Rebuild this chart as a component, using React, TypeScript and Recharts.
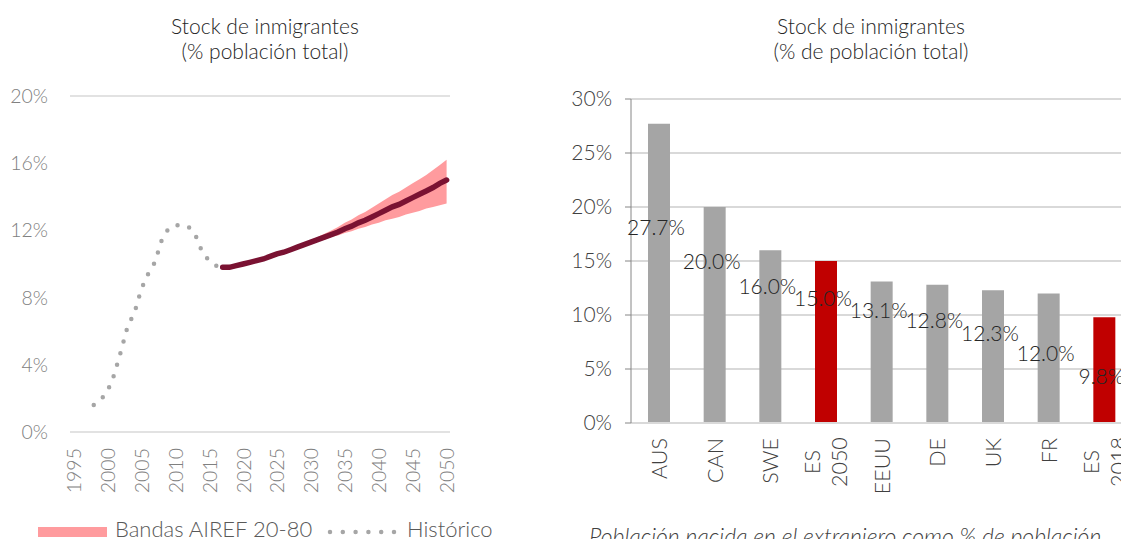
import React from 'react';
import {
  ComposedChart,
  BarChart,
  Bar,
  Area,
  Line,
  Cell,
  XAxis,
  YAxis,
  CartesianGrid,
  LabelList,
} from 'recharts';

// ---- Left chart: stock de inmigrantes, histórico + proyección ----
const histYears = [1998, 1999, 2000, 2001, 2002, 2003, 2004, 2005, 2006, 2007, 2008, 2009, 2010, 2011, 2012, 2013, 2014, 2015, 2016, 2017];
const histValues = [1.6, 1.9, 2.4, 3.4, 4.8, 6.3, 7.1, 8.5, 9.4, 10.1, 11.4, 12.1, 12.3, 12.3, 12.2, 11.7, 10.7, 10.2, 9.9, 9.8];

const projYears = [
  2017, 2018, 2019, 2020, 2021, 2022, 2023, 2024, 2025, 2026, 2027, 2028, 2029, 2030, 2031, 2032, 2033,
  2034, 2035, 2036, 2037, 2038, 2039, 2040, 2041, 2042, 2043, 2044, 2045, 2046, 2047, 2048, 2049, 2050,
];
const projMid = [
  9.8, 9.8, 9.9, 10.0, 10.1, 10.2, 10.3, 10.45, 10.6, 10.7, 10.85, 11.0, 11.15, 11.3, 11.45, 11.6, 11.75,
  11.9, 12.1, 12.25, 12.45, 12.6, 12.8, 13.0, 13.2, 13.4, 13.55, 13.75, 13.95, 14.15, 14.35, 14.55, 14.8, 15.0,
];
const projP20 = [
  9.8, 9.8, 9.9, 10.0, 10.1, 10.2, 10.3, 10.45, 10.6, 10.7, 10.85, 10.95, 11.1, 11.2, 11.35, 11.45, 11.6,
  11.7, 11.85, 11.95, 12.1, 12.2, 12.35, 12.45, 12.6, 12.7, 12.8, 12.95, 13.05, 13.15, 13.3, 13.4, 13.5, 13.6,
];
const projP80 = [
  9.8, 9.8, 9.9, 10.0, 10.1, 10.2, 10.3, 10.45, 10.6, 10.7, 10.85, 11.05, 11.2, 11.4, 11.6, 11.8, 12.0,
  12.2, 12.45, 12.65, 12.9, 13.1, 13.35, 13.6, 13.85, 14.1, 14.3, 14.55, 14.8, 15.05, 15.3, 15.6, 15.9, 16.2,
];
const yearTicks = [1995, 2000, 2005, 2010, 2015, 2020, 2025, 2030, 2035, 2040, 2045, 2050];
const leftPctTicks = [0, 4, 8, 12, 16, 20];

// ---- Right chart: comparación internacional ----
const countries = ['AUS', 'CAN', 'SWE', 'ES\n2050', 'EEUU', 'DE', 'UK', 'FR', 'ES\n2018'];
const shares = [27.7, 20.0, 16.0, 15.0, 13.1, 12.8, 12.3, 12.0, 9.8];
const rightPctTicks = [0, 5, 10, 15, 20, 25, 30];

type Row = { year: number; hist?: number; mid?: number; lo?: number; hi?: number };
const byYear: Record<number, Row> = {};
histYears.forEach((y, i) => {
  byYear[y] = { ...(byYear[y] || { year: y }), hist: histValues[i] };
});
projYears.forEach((y, i) => {
  byYear[y] = { ...(byYear[y] || { year: y }), mid: projMid[i], lo: projP20[i], hi: projP80[i] };
});
const leftData = Object.values(byYear).sort((a, b) => a.year - b.year);

const barData = countries.map((c, i) => ({ name: c, value: shares[i] }));

const FONT = "Lato, 'Open Sans', sans-serif";
const GRID = '#D9D9D9';

// how far below each bar top the (Excel-placed) value label sits
const LABEL_DROP = [103, 53, 35, 36, 28, 35, 42, 59, 58];

const YearTick = ({ x, y, payload }: any) => (
  <text
    x={x}
    y={y + 16}
    transform={`rotate(-90 ${x} ${y + 16})`}
    textAnchor="end"
    dominantBaseline="central"
    fontFamily={FONT}
    fontWeight={300}
    fontSize={19.5}
    fill="#808080"
  >
    {payload.value}
  </text>
);

const CountryTick = ({ x, y, payload }: any) => {
  const lines = String(payload.value).split('\n');
  const fs = 21.5;
  if (lines.length === 1) {
    return (
      <text
        x={x}
        y={y + 15}
        transform={`rotate(-90 ${x} ${y + 15})`}
        textAnchor="end"
        dominantBaseline="central"
        fontFamily={FONT}
        fontWeight={300}
        fontSize={fs}
        fill="#404040"
      >
        {lines[0]}
      </text>
    );
  }
  const longest = Math.max(...lines.map((l) => l.length));
  const cy = y + 15 + (longest * 0.56 * fs) / 2;
  return (
    <g>
      {lines.map((l, i) => {
        const lx = x + (i - (lines.length - 1) / 2) * 27;
        return (
          <text
            key={i}
            x={lx}
            y={cy}
            transform={`rotate(-90 ${lx} ${cy})`}
            textAnchor="middle"
            dominantBaseline="central"
            fontFamily={FONT}
            fontWeight={300}
            fontSize={fs}
            fill="#404040"
          >
            {l}
          </text>
        );
      })}
    </g>
  );
};

const ValueLabel = ({ x, y, width, value, index }: any) => (
  <text
    x={x + width / 2 - 3}
    y={y + LABEL_DROP[index]}
    textAnchor="middle"
    dominantBaseline="central"
    fontFamily={FONT}
    fontWeight={300}
    fontSize={21}
    fill="#262626"
  >
    {`${Number(value).toFixed(1)}%`}
  </text>
);

function LeftChart() {
  return (
    <ComposedChart
      width={560}
      height={539}
      data={leftData}
      margin={{ top: 96, right: 0, bottom: 47, left: 0 }}
    >
      <CartesianGrid horizontal vertical={false} stroke={GRID} strokeWidth={1.5} />
      <XAxis
        dataKey="year"
        type="number"
        domain={[1994.5, 2050.5]}
        ticks={yearTicks}
        interval={0}
        height={60}
        axisLine={false}
        tickLine={false}
        tickSize={0}
        tickMargin={0}
        tick={<YearTick />}
      />
      <YAxis
        yAxisId="l"
        domain={[0, 20]}
        ticks={leftPctTicks}
        width={70}
        axisLine={false}
        tickLine={false}
        tickSize={0}
        tickMargin={22}
        tickFormatter={(v) => `${v}%`}
        tick={{ fontFamily: FONT, fontWeight: 300, fontSize: 19.5, fill: '#808080' }}
      />
      <YAxis
        yAxisId="r"
        orientation="right"
        domain={[0, 20]}
        ticks={leftPctTicks}
        width={110}
        axisLine={false}
        tickLine={false}
        tickSize={0}
        tickMargin={20}
        tickFormatter={(v) => `${v}%`}
        tick={{ fontFamily: FONT, fontWeight: 300, fontSize: 19.5, fill: '#808080' }}
      />
      <Area
        yAxisId="l"
        type="linear"
        dataKey={(d: Row) => (d.lo == null ? null : [d.lo, d.hi])}
        fill="#FF9B9E"
        fillOpacity={1}
        stroke="none"
        isAnimationActive={false}
      />
      <Line
        yAxisId="l"
        type="linear"
        dataKey="hist"
        stroke="#A6A6A6"
        strokeWidth={4.5}
        strokeDasharray="0 12"
        strokeLinecap="round"
        dot={false}
        activeDot={false}
        isAnimationActive={false}
      />
      <Line
        yAxisId="l"
        type="linear"
        dataKey="mid"
        stroke="#7A1232"
        strokeWidth={5.5}
        strokeLinecap="round"
        dot={false}
        activeDot={false}
        isAnimationActive={false}
      />
    </ComposedChart>
  );
}

function RightChart() {
  return (
    <BarChart
      width={572}
      height={539}
      data={barData}
      margin={{ top: 99, right: 0, bottom: 46, left: 0 }}
    >
      <CartesianGrid horizontal vertical={false} stroke={GRID} strokeWidth={2} />
      <XAxis
        dataKey="name"
        height={70}
        interval={0}
        axisLine={{ stroke: GRID, strokeWidth: 2 }}
        tickLine={false}
        tickSize={0}
        tickMargin={0}
        tick={<CountryTick />}
      />
      <YAxis
        domain={[0, 30]}
        ticks={rightPctTicks}
        width={71}
        axisLine={{ stroke: '#868686' }}
        tickLine={{ stroke: '#868686' }}
        tickSize={6}
        tickMargin={13}
        tickFormatter={(v) => `${v}%`}
        tick={{ fontFamily: FONT, fontWeight: 300, fontSize: 21, fill: '#404040' }}
      />
      <Bar dataKey="value" barSize={22} isAnimationActive={false}>
        {barData.map((d) => (
          <Cell key={d.name} fill={d.name.startsWith('ES') ? '#C00000' : '#A5A5A5'} />
        ))}
        <LabelList dataKey="value" content={<ValueLabel />} />
      </Bar>
    </BarChart>
  );
}

function Overlay() {
  const title = { fontFamily: FONT, fontWeight: 300, fontSize: 21, fill: '#262626', textAnchor: 'middle' as const };
  const legend = { fontFamily: FONT, fontWeight: 300, fontSize: 22, fill: '#595959' };
  return (
    <svg width={1121} height={539} style={{ position: 'absolute', left: 0, top: 0, pointerEvents: 'none' }}>
      <text x={265} y={34} {...title}>Stock de inmigrantes</text>
      <text x={265} y={59} {...title}>(% población total)</text>
      <text x={871} y={34} {...title}>Stock de inmigrantes</text>
      <text x={871} y={59} {...title}>(% de población total)</text>

      <rect x={38} y={527} width={69} height={10} fill="#FF9B9E" />
      <text x={115} y={537} {...legend}>Bandas AIREF 20-80</text>
      <line x1={330} y1={532} x2={397} y2={532} stroke="#A6A6A6" strokeWidth={4.5} strokeDasharray="0 12.8" strokeLinecap="round" />
      <text x={407} y={537} {...legend}>Histórico</text>

      <text x={589} y={545} fontFamily={FONT} fontWeight={300} fontStyle="italic" fontSize={23} fill="#404040">
        Población nacida en el extranjero como % de población
      </text>
    </svg>
  );
}

export default function App() {
  return (
    <div
      style={{
        position: 'absolute',
        left: 0,
        top: 0,
        width: 1121,
        height: 539,
        overflow: 'hidden',
        background: '#fff',
      }}
    >
      <div style={{ position: 'absolute', left: 0, top: 0 }}>
        <LeftChart />
      </div>
      <div style={{ position: 'absolute', left: 560, top: 0 }}>
        <RightChart />
      </div>
      <Overlay />
    </div>
  );
}
